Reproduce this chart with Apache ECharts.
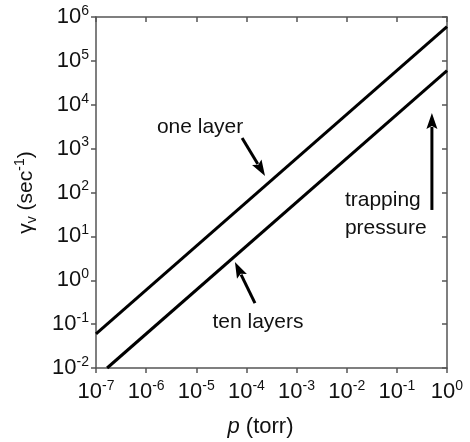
<!DOCTYPE html>
<html>
<head>
    <meta charset="utf-8">
    <title>trapping pressure</title>
    <style>
        html, body { margin: 0; padding: 0; background: #fff; }
        #main { width: 470px; height: 442px; }
    </style>
</head>
<body>
<div id="main"></div>
<script src="https://cdn.jsdelivr.net/npm/echarts@6/dist/echarts.min.js"></script>
<script>
    // 数据 (p in torr, gamma_v in 1/sec)
    var oneLayer = [[1e-7, 0.06], [1, 6e5]];
    var tenLayers = [[1.667e-7, 0.01], [1, 6e4]];
    var xRange = [1e-7, 1];
    var yRange = [1e-2, 1e6];

    // annotations in data space: text and arrows [tail, tip]
    var labels = [
        {text: 'one layer', at: [1.19e-5, 3.1e3], align: 'center'},
        {text: 'ten layers', at: [1.7e-4, 0.11], align: 'center'},
        {text: 'trapping\npressure', at: [9.2e-3, 32], align: 'left'}
    ];
    var arrows = [
        [[8.2e-5, 1.75e3], [2.35e-4, 238]],
        [[1.48e-4, 0.30], [5.9e-5, 2.6]],
        [[0.5, 40], [0.5, 6.5e3]]
    ];

    var font = 'Liberation Sans, Arial, sans-serif';
    var axisColor = '#555';

    function powLabel(v) {
        var e = Math.round(Math.log10(v));
        return '{b|10}{s|' + e + '}';
    }
    var tickRich = {
        b: {fontSize: 22, lineHeight: 26, color: '#111', fontFamily: font},
        s: {fontSize: 14, lineHeight: 14, verticalAlign: 'top', color: '#111', fontFamily: font}
    };

    var myChart = echarts.init(document.getElementById('main'));

    function logAxis(range, pos, main, margin) {
        return {
            type: 'log',
            logBase: 10,
            position: pos,
            min: range[0],
            max: range[1],
            interval: 1,
            axisLine: {show: true, lineStyle: {color: axisColor, width: 1.5}},
            axisTick: {show: true, inside: !main, length: 5, lineStyle: {color: axisColor, width: 1.5}},
            minorTick: {show: false},
            splitLine: {show: false},
            axisLabel: {show: main, margin: margin || 7, formatter: powLabel, rich: tickRich}
        };
    }

    var xMain = logAxis(xRange, 'bottom', true, 11);
    xMain.name = '{i|p}{n| (torr)}';
    xMain.nameLocation = 'middle';
    xMain.nameGap = 48;
    xMain.nameTextStyle = {
        padding: [0, 22, 0, 0],
        rich: {
            i: {fontSize: 22, fontStyle: 'italic', color: '#111', fontFamily: font},
            n: {fontSize: 22, color: '#111', fontFamily: font}
        }
    };
    var yMain = logAxis(yRange, 'left', true, 7);
    yMain.name = '{g|γ}{sub|v}{n| (sec}{sup|-1}{n|)}';
    yMain.nameLocation = 'middle';
    yMain.nameGap = 57;
    yMain.nameRotate = 90;
    yMain.nameTextStyle = {
        rich: {
            g: {fontSize: 21, lineHeight: 26, color: '#111', fontFamily: font},
            n: {fontSize: 21, lineHeight: 26, color: '#111', fontFamily: font},
            sub: {fontSize: 14, lineHeight: 12, verticalAlign: 'bottom', color: '#111', fontFamily: font},
            sup: {fontSize: 14, lineHeight: 12, verticalAlign: 'top', color: '#111', fontFamily: font}
        }
    };

    var option = {
        backgroundColor: '#fff',
        animation: false,
        grid: {left: 96, right: 23, top: 17, bottom: 74, outerBoundsMode: 'none'},
        xAxis: [xMain, logAxis(xRange, 'top', false)],
        yAxis: [yMain, logAxis(yRange, 'right', false)],
        series: [
            {
                name: 'one layer', type: 'line', data: oneLayer, showSymbol: false,
                lineStyle: {color: '#000', width: 3}
            },
            {
                name: 'ten layers', type: 'line', data: tenLayers, showSymbol: false,
                lineStyle: {color: '#000', width: 3}
            }
        ]
    };
    myChart.setOption(option);

    // 注释: place labels and arrows through the axes
    var graphics = [];
    labels.forEach(function (l) {
        var p = myChart.convertToPixel({gridIndex: 0}, l.at);
        graphics.push({
            type: 'text', x: p[0], y: p[1],
            style: {
                text: l.text, fill: '#111', font: '21px ' + font,
                align: l.align, verticalAlign: 'middle', lineHeight: 28
            }
        });
    });
    arrows.forEach(function (a) {
        var t = myChart.convertToPixel({gridIndex: 0}, a[0]);
        var h = myChart.convertToPixel({gridIndex: 0}, a[1]);
        var dx = h[0] - t[0], dy = h[1] - t[1];
        var len = Math.sqrt(dx * dx + dy * dy);
        var ux = dx / len, uy = dy / len;
        var hl = 16, hw = 5.5;
        var bx = h[0] - ux * hl, by = h[1] - uy * hl;
        graphics.push({
            type: 'line',
            shape: {x1: t[0], y1: t[1], x2: bx + ux * 2, y2: by + uy * 2},
            style: {stroke: '#000', lineWidth: 3}
        });
        graphics.push({
            type: 'polygon',
            shape: {points: [[h[0], h[1]], [bx - uy * hw, by + ux * hw], [bx + ux * 3, by + uy * 3], [bx + uy * hw, by - ux * hw]]},
            style: {fill: '#000'}
        });
    });
    myChart.setOption({graphic: graphics});
</script>
</body>
</html>
